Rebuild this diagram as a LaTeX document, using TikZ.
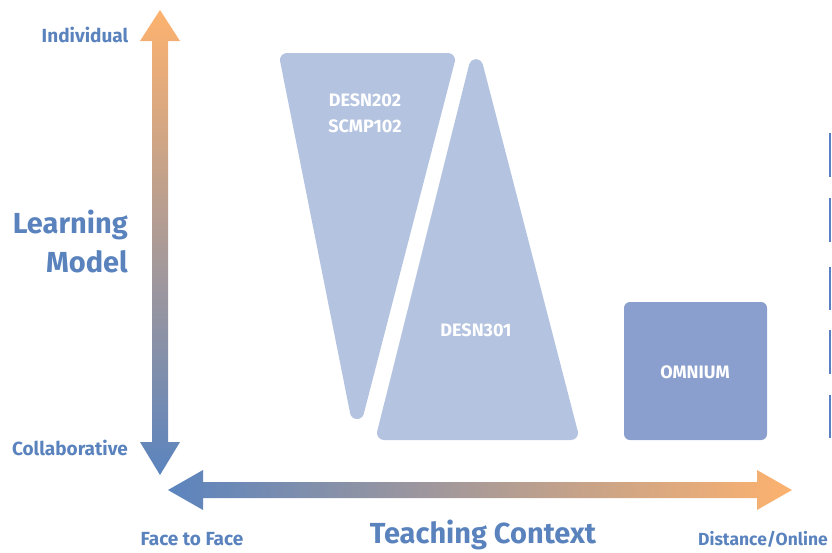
\documentclass[tikz,border=0pt]{standalone}
\usepackage{fontspec}
\setmainfont{Fira Sans}
\definecolor{axisblue}{HTML}{5B84BE}
\definecolor{axisorange}{HTML}{FDB26E}
\definecolor{shapeblue}{HTML}{B4C3E0}
\definecolor{boxblue}{HTML}{8A9FCD}
\definecolor{labelblue}{HTML}{5A83BE}
\definecolor{barblue}{HTML}{5B7FC0}
\begin{document}
\begin{tikzpicture}[x=1pt,y=-1pt,
  lbl/.style={text=labelblue,font=\bfseries\fontsize{19}{21}\selectfont,inner sep=0pt,anchor=base},
  big/.style={text=labelblue,font=\bfseries\fontsize{29}{33}\selectfont,inner sep=0pt},
  inlbl/.style={text=white,font=\bfseries\fontsize{18}{21}\selectfont,inner sep=0pt,anchor=base},
  bar/.style={draw=barblue,line width=2.2pt},
  flat/.style={fill=shapeblue,draw=shapeblue,line width=14pt,line join=round}]
\useasboundingbox (0,0) rectangle (832,552);
% vertical axis arrow
\coordinate (vtop) at (160,10);
\coordinate (vbot) at (160,475);
\shade[top color=axisorange,bottom color=axisblue]
  (vtop) -- (180,41) -- (168,41) -- (168,442) -- (180,442) -- (vbot)
  -- (140,442) -- (152,442) -- (152,41) -- (140,41) -- cycle;
% horizontal axis arrow
\coordinate (hleft) at (168,490);
\coordinate (hright) at (792,490);
\shade[left color=axisblue,right color=axisorange]
  (hleft) -- (203,470) -- (203,482) -- (757,482) -- (757,470) -- (hright)
  -- (757,510) -- (757,498) -- (203,498) -- (203,510) -- cycle;
% shapes
\filldraw[flat] (287,60) -- (448,60) -- (357,412) -- cycle;
\filldraw[flat] (476,66) -- (571,433) -- (384,433) -- cycle;
\fill[boxblue,rounded corners=6pt] (624,302) rectangle (767,440);
% labels inside shapes
\node[inlbl] (d202) at (365,106) {DESN202};
\node[inlbl] (s102) at (365,132) {SCMP102};
\node[inlbl] (d301) at (476,336) {DESN301};
\node[inlbl] (omn) at (695,378) {OMNIUM};
% axis labels
\node[lbl] (ind) at (85,42) {Individual};
\node[lbl] (col) at (70,455) {Collaborative};
\node[lbl] (f2f) at (192,545) {Face to Face};
\node[lbl,anchor=base west,font=\bfseries\fontsize{17.5}{21}\selectfont] (dist) at (698,545) {Distance/Online};
\node[big,anchor=base east] (learn) at (128,233) {Learning};
\node[big,anchor=base east] (model) at (128,272) {Model};
\node[big,anchor=base] (tc) at (483,543) {Teaching Context};
% bars at right edge
\foreach \a/\b in {133/177,198/242,267/310,330/374,395/438}
  \draw[bar] (830,\a) -- (830,\b);
\end{tikzpicture}
\end{document}
